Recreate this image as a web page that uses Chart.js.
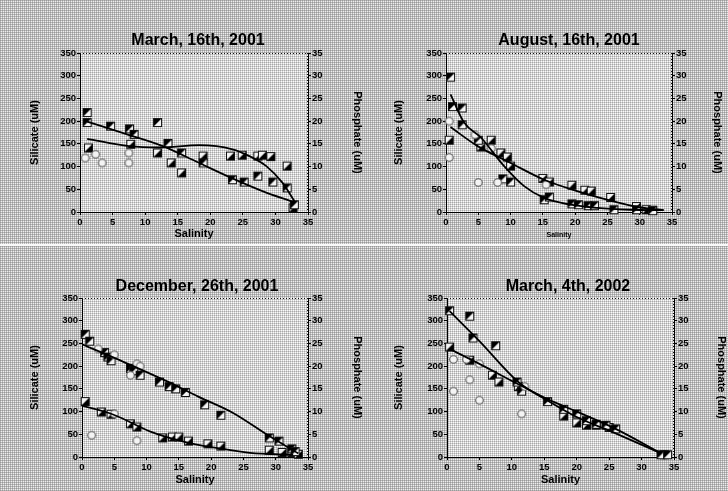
<!DOCTYPE html>
<html><head><meta charset="utf-8">
<script src="https://cdn.jsdelivr.net/npm/chart.js@4.4.1/dist/chart.umd.min.js"></script>
<style>
html,body{margin:0;padding:0;}
body{width:728px;height:491px;position:relative;overflow:hidden;background-color:#eeeeee;
background-image:linear-gradient(90deg,rgba(100,100,100,.38) 1px,transparent 1px),linear-gradient(rgba(100,100,100,.38) 1px,transparent 1px);background-size:2px 2px;}
.p{position:absolute;width:364px;}
.gap{position:absolute;left:0;top:244px;width:728px;height:2px;background:#fafafa;}
</style></head><body>
<div class="gap"></div>
<div class="p" style="left:0;top:0;height:245px"><canvas id="c1" width="364" height="245"></canvas></div>
<div class="p" style="left:364px;top:0;height:245px"><canvas id="c2" width="364" height="245"></canvas></div>
<div class="p" style="left:0;top:245px;height:246px"><canvas id="c3" width="364" height="246"></canvas></div>
<div class="p" style="left:364px;top:245px;height:246px"><canvas id="c4" width="364" height="246"></canvas></div>
<script>
// ---------- tick labels ----------
const salinityTicks = [0, 5, 10, 15, 20, 25, 30, 35];
const silicateTicks = [0, 50, 100, 150, 200, 250, 300, 350];
const phosphateTicks = [0, 5, 10, 15, 20, 25, 30, 35];

// ---------- panel titles ----------
const panelTitles = ['March, 16th, 2001', 'August, 16th, 2001', 'December, 26th, 2001', 'March, 4th, 2002'];

// ---------- March 16th 2001 : [salinity, value] ----------
const mar01Silicate = [[1.1,219],[1.1,197],[4.7,189],[7.6,183],[8.3,171],[11.9,197],[13.5,151],[15.6,130],[18.9,108],[23.4,71],[25.2,66],[27.3,79],[29.6,66],[31.8,53],[32.9,16]];
const mar01Phosphate = [[1.3,14.1],[7.8,14.9],[11.9,13.0],[14,10.8],[15.6,8.6],[18.9,12.3],[23.1,12.3],[24.9,12.5],[27.3,12.3],[28,12.5],[29.3,12.2],[31.8,10.1],[32.7,0.9]];
const mar01Open = [[0.8,119],[2.4,127],[3.4,108],[7.5,130],[7.5,108]];
const mar01SilicateFit = [[1.1,199],[7,172],[12.7,145],[18,110],[23.4,74],[28,46],[32.7,22]];
const mar01PhosphateFit = [[1.1,16.1],[7.5,14.5],[12.2,14.2],[18.3,14.7],[23.4,13.8],[26,12.3],[28.6,10.1],[31.1,6.4],[32.9,2.4]];

// ---------- August 16th 2001 ----------
const aug01Silicate = [[0.7,297],[1,232],[2.5,229],[2.5,192],[5,158],[8.8,73],[10,66],[15.2,27],[16,33],[19.5,18],[20.5,16],[22,14],[23,14],[26,5],[29.5,5],[32,3]];
const aug01Phosphate = [[0.5,15.8],[5.4,14.3],[7,15.8],[8.5,13.0],[9.5,12.1],[10,10.1],[15,7.4],[16,6.6],[19.5,5.9],[21.5,4.8],[22.5,4.6],[25.5,3.2],[29.5,1.2],[31,0.5],[32,0.4]];
const aug01Open = [[0.5,200],[0.5,120],[5,65],[7,140],[8,65],[15.5,60],[4.5,170]];
const aug01SilicateFit = [[0.7,259],[2.8,197],[5.4,164],[9,101],[12.1,57],[15.2,31],[19.3,16],[23.4,9],[28.6,5],[33.7,4]];
const aug01PhosphateFit = [[0.7,18.7],[4.9,14.5],[10,10.8],[15.2,7.1],[20.3,4.6],[25.5,2.5],[29.6,1.1],[33.7,0.4]];

// ---------- December 26th 2001 ----------
const dec01Silicate = [[0.5,270],[1.2,255],[3.5,230],[4,220],[4.5,212],[7.5,195],[8,190],[9,180],[12,165],[13.5,155],[14.5,150],[16,142],[19,115],[21.5,92],[29,42],[30.5,35],[32.5,18],[33,12]];
const dec01Phosphate = [[0.5,12.2],[3,9.9],[4.5,9.4],[7.5,7.3],[8.5,6.6],[12.5,4.2],[14,4.4],[15,4.4],[16.5,3.5],[19.5,2.9],[21.5,2.4],[29,1.5],[31,1.0],[32.5,1.0],[33.5,0.6]];
const dec01Open = [[1.5,48],[2.5,238],[5,225],[8.5,205],[9,200],[7.5,180],[8.5,36],[5,95]];
const dec01SilicateFit = [[0,248],[6.5,209],[13.1,167],[18,133],[23.4,97],[29,46],[33.5,8]];
const dec01PhosphateFit = [[0,11.3],[4.9,9.3],[10.6,5.6],[15.7,3.4],[20.8,2.0],[26,0.9],[32.7,0.5]];

// ---------- March 4th 2002 ----------
const mar02Silicate = [[0.4,322],[3.5,310],[4,262],[7.5,245],[10.8,165],[11.5,145],[15.5,122],[18,105],[20,95],[21.5,80],[23,72],[24.5,70],[26,62],[33,5],[34,5]];
const mar02Phosphate = [[0.4,24.2],[3.5,21.3],[7,18],[8,16.5],[11,15.5],[18,9],[20,7.5],[21.5,7],[23,7],[25,6.5],[33.5,0.5]];
const mar02Open = [[1,215],[1,145],[3.5,170],[5,205],[5,125],[11.5,95],[12,155],[3,215]];
const mar02SilicateFit = [[0.4,321],[5,255],[11,165],[16,120],[20,88],[26,52],[33,8]];
const mar02PhosphateFit = [[0.4,23.8],[5,20.5],[11,16],[16,12.4],[20,10],[26,6.2],[33,0.8]];

// ---------- drawing helpers ----------
const FONT = '"Liberation Sans", Arial, sans-serif';
Chart.defaults.font.family = FONT;
Chart.defaults.color = '#000';

function marker(kind) {
  const c = document.createElement('canvas');
  c.width = 11; c.height = 11;
  const g = c.getContext('2d');
  if (kind === 'circle') {
    g.beginPath(); g.arc(5.5, 5.5, 3.8, 0, Math.PI * 2);
    g.fillStyle = '#f4f4f4'; g.fill();
    g.strokeStyle = '#555'; g.lineWidth = 1.1; g.stroke();
    return c;
  }
  g.fillStyle = '#f4f4f4'; g.fillRect(1, 1, 9, 9);
  g.beginPath();
  if (kind === 'a') { g.moveTo(1, 1); g.lineTo(10, 1); g.lineTo(1, 10); }
  else { g.moveTo(10, 1); g.lineTo(10, 10); g.lineTo(1, 10); }
  g.closePath(); g.fillStyle = '#000'; g.fill();
  g.strokeStyle = '#111'; g.lineWidth = 1; g.strokeRect(1.5, 1.5, 8, 8);
  return c;
}
const mSil = marker('a'), mPho = marker('b'), mOpen = marker('circle');

function plotPattern(ctx) {
  const c = document.createElement('canvas'); c.width = 2; c.height = 2;
  const g = c.getContext('2d');
  g.fillStyle = '#fbfbfb'; g.fillRect(0, 0, 2, 2);
  g.fillStyle = '#d2d2d2'; g.fillRect(0, 0, 2, 1); g.fillRect(0, 0, 1, 2);
  g.fillStyle = '#a8a8a8'; g.fillRect(0, 0, 1, 1);
  return ctx.createPattern(c, 'repeat');
}

const deco = {
  id: 'deco',
  beforeDraw(chart, args, o) {
    const { ctx, chartArea: a } = chart;
    ctx.save(); ctx.fillStyle = plotPattern(ctx);
    ctx.fillRect(a.left, a.top, a.width, a.height); ctx.restore();
  },
  afterDraw(chart, args, o) {
    const { ctx, chartArea: a } = chart;
    ctx.save();
    ctx.strokeStyle = '#111'; ctx.lineWidth = 1; ctx.setLineDash([1, 2]);
    ctx.beginPath();
    ctx.moveTo(a.left, a.top + 0.5); ctx.lineTo(a.right, a.top + 0.5);
    ctx.moveTo(a.right - 0.5, a.top); ctx.lineTo(a.right - 0.5, a.bottom);
    ctx.stroke();
    ctx.setLineDash([]);
    ctx.font = 'bold 16px ' + FONT; ctx.fillStyle = '#000';
    ctx.textAlign = 'center'; ctx.textBaseline = 'middle';
    ctx.fillText(o.text, o.x, o.y);
    ctx.restore();
  }
};

function ticksFrom(arr) { return s => { s.ticks = arr.map(v => ({ value: v })); }; }

function makePanel(id, title, titleX, titleY, sil, pho, open, silFit, phoFit, g) {
  const lineDs = (data, axis) => ({
    data: data.map(([x, y]) => ({ x, y })), yAxisID: axis, showLine: true,
    borderColor: '#000', borderWidth: 1.8, pointRadius: 0, cubicInterpolationMode: 'monotone', fill: false
  });
  const ptDs = (label, data, axis, style) => ({
    label, data: data.map(([x, y]) => ({ x, y })), yAxisID: axis,
    pointStyle: style, pointRadius: 5, showLine: false, clip: false
  });
  new Chart(document.getElementById(id), {
    type: 'scatter',
    data: {
      datasets: [
        { label: 'Silicate fit', ...lineDs(silFit, 'y') },
        { label: 'Phosphate fit', ...lineDs(phoFit, 'y2') },
        ptDs('Other', open, 'y', mOpen),
        ptDs('Silicate', sil, 'y', mSil),
        ptDs('Phosphate', pho, 'y2', mPho)
      ]
    },
    options: {
      responsive: false, animation: false,
      layout: { padding: { left: g.padL, right: 0, top: 53, bottom: 0 } },
      plugins: { legend: { display: false }, tooltip: { enabled: false },
        deco: { text: title, x: titleX, y: titleY } },
      scales: {
        x: {
          type: 'linear', min: 0, max: 35, afterBuildTicks: ticksFrom(salinityTicks),
          afterFit: s => { s.height = g.xH; },
          ticks: { font: { size: 9.5, weight: 'bold' }, padding: 2, maxRotation: 0, color: '#000' },
          grid: { drawOnChartArea: false, tickLength: 3, color: '#000' },
          border: { color: '#000', dash: [1, 2] },
          title: { display: true, text: 'Salinity', font: { size: g.salSize, weight: 'bold' }, padding: { top: 0, bottom: g.salPad }, color: '#000' }
        },
        y: {
          position: 'left', min: 0, max: 350, afterBuildTicks: ticksFrom(silicateTicks),
          afterFit: s => { s.width = g.yW; },
          ticks: { font: { size: 9.5, weight: 'bold' }, padding: 1, color: '#000' },
          grid: { drawOnChartArea: false, tickLength: 3, color: '#000' },
          border: { color: '#000', dash: [1, 2] },
          title: { display: true, text: 'Silicate (uM)', font: { size: 11, weight: 'bold' }, padding: { top: 6, bottom: 0 }, color: '#000' }
        },
        y2: {
          position: 'right', min: 0, max: 35, afterBuildTicks: ticksFrom(phosphateTicks),
          afterFit: s => { s.width = g.y2W; },
          ticks: { font: { size: 9.5, weight: 'bold' }, padding: 1, color: '#000' },
          grid: { drawOnChartArea: false, tickLength: 3, color: '#000' },
          border: { color: '#000', dash: [1, 2] },
          title: { display: true, text: 'Phosphate (uM)', font: { size: 11, weight: 'bold' }, padding: { top: g.phoPad, bottom: 0 }, color: '#000' }
        }
      }
    },
    plugins: [deco]
  });
}

makePanel('c1', panelTitles[0], 198, 41, mar01Silicate, mar01Phosphate, mar01Open, mar01SilicateFit, mar01PhosphateFit,
  { padL: 22, yW: 58, y2W: 56, xH: 33, salSize: 11, salPad: 4, phoPad: 0 });
makePanel('c2', panelTitles[1], 205, 41, aug01Silicate, aug01Phosphate, aug01Open, aug01SilicateFit, aug01PhosphateFit,
  { padL: 22, yW: 60, y2W: 56, xH: 33, salSize: 7, salPad: 6, phoPad: 4 });
makePanel('c3', panelTitles[2], 197, 42, dec01Silicate, dec01Phosphate, dec01Open, dec01SilicateFit, dec01PhosphateFit,
  { padL: 22, yW: 60, y2W: 56, xH: 34, salSize: 11, salPad: 4, phoPad: 0 });
makePanel('c4', panelTitles[3], 204, 42, mar02Silicate, mar02Phosphate, mar02Open, mar02SilicateFit, mar02PhosphateFit,
  { padL: 22, yW: 61, y2W: 54, xH: 34, salSize: 11, salPad: 4, phoPad: 0 });
</script>
</body></html>
